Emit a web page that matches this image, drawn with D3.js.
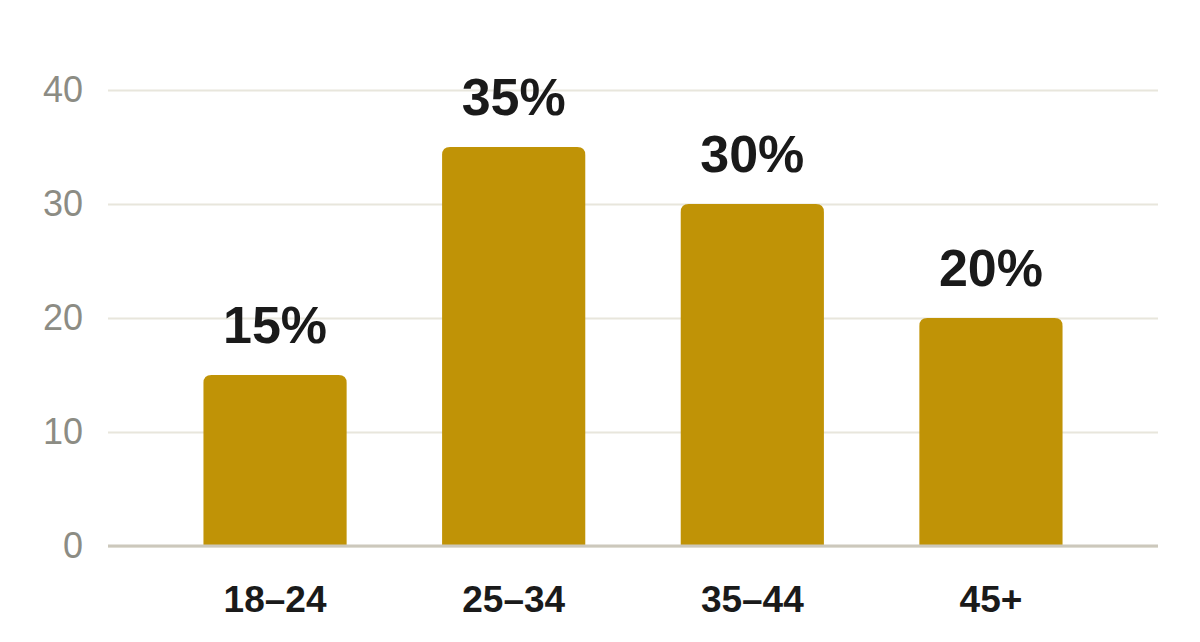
<!DOCTYPE html>
<html>
<head>
<meta charset="utf-8">
<script src="https://cdn.jsdelivr.net/npm/d3@7"></script>
<style>
  html, body { margin: 0; padding: 0; background: #fff; }
  svg { display: block; font-family: "Liberation Sans", Arial, Helvetica, sans-serif; }
</style>
</head>
<body>
<div id="chart"></div>
<script>
// Data
const categories = ['18–24', '25–34', '35–44', '45+'];
const shares = [15, 35, 30, 20];
const yTicks = [0, 10, 20, 30, 40];

const w = 1200;
const h = 642;
const margin = { top: 90, right: 42, bottom: 96, left: 108 };
const barColour = '#c09306';

const svg = d3.select('#chart')
  .append('svg')
  .attr('width', w)
  .attr('height', h)
  .attr('viewBox', `0 0 ${w} ${h}`);

// Scales
const xScale = d3.scaleBand()
  .domain(categories)
  .range([margin.left, w - margin.right])
  .paddingInner(0.4)
  .paddingOuter(0.4);

const yScale = d3.scaleLinear()
  .domain([0, 40])
  .range([h - margin.bottom, margin.top]);

// Gridlines + y labels
const yAxis = d3.axisLeft(yScale)
  .tickValues(yTicks)
  .tickSize(-(w - margin.left - margin.right))
  .tickPadding(25);

svg.append('g')
  .classed('y-axis', true)
  .attr('transform', `translate(${margin.left}, 0)`)
  .call(yAxis);

svg.select('.y-axis .domain').remove();

svg.selectAll('.y-axis .tick line')
  .attr('stroke', '#e8e6dc')
  .attr('stroke-width', 2);

svg.selectAll('.y-axis .tick text')
  .attr('fill', '#8c8c84')
  .attr('font-size', 36)
  .attr('font-family', '"Liberation Sans", Arial, sans-serif');

// Bars with rounded tops
const r = 8;
const barPath = (d, i) => {
  const x0 = xScale(categories[i]);
  const x1 = x0 + xScale.bandwidth();
  const y0 = yScale(0);
  const y1 = yScale(d);
  return `M${x0},${y0} L${x0},${y1 + r} Q${x0},${y1} ${x0 + r},${y1}
          L${x1 - r},${y1} Q${x1},${y1} ${x1},${y1 + r} L${x1},${y0} Z`;
};

svg.append('g')
  .selectAll('path')
  .data(shares)
  .join('path')
  .attr('fill', barColour)
  .attr('d', barPath);

// Baseline
svg.append('line')
  .attr('x1', margin.left)
  .attr('x2', w - margin.right)
  .attr('y1', yScale(0))
  .attr('y2', yScale(0))
  .attr('stroke', '#ccc8bc')
  .attr('stroke-width', 3);

// Value labels
svg.append('g')
  .selectAll('text')
  .data(shares)
  .join('text')
  .attr('x', (d, i) => xScale(categories[i]) + xScale.bandwidth() / 2)
  .attr('y', d => yScale(d) - 32)
  .attr('text-anchor', 'middle')
  .attr('font-size', 52)
  .attr('font-weight', 'bold')
  .attr('fill', '#1a1a1a')
  .text(d => `${d}%`);

// Category labels
const xAxis = d3.axisBottom(xScale).tickSize(0).tickPadding(0);
svg.append('g')
  .classed('x-axis', true)
  .attr('transform', `translate(0, ${yScale(0)})`)
  .call(xAxis);

svg.select('.x-axis .domain').remove();
svg.selectAll('.x-axis .tick text')
  .attr('y', 66)
  .attr('dy', null)
  .attr('fill', '#1a1a1a')
  .attr('font-size', 37)
  .attr('font-weight', 'bold')
  .attr('font-family', '"Liberation Sans", Arial, sans-serif');
</script>
</body>
</html>
